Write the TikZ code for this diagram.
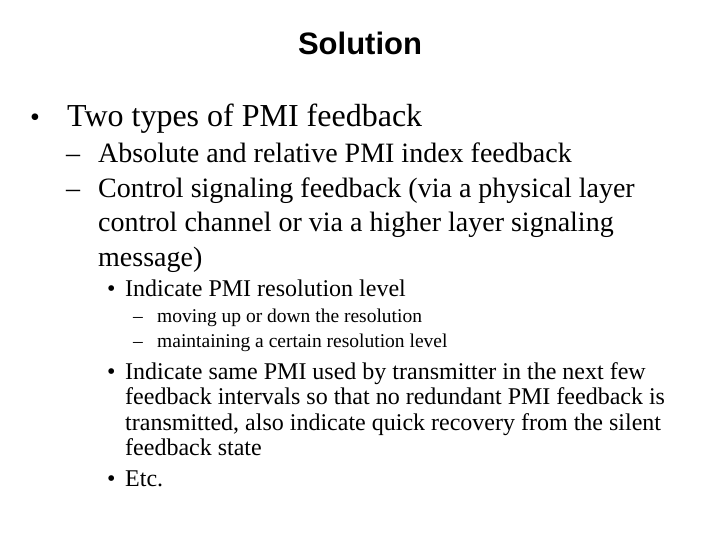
\documentclass[tikz,border=0pt]{standalone}
\usepackage{fontspec}
\setmainfont{Liberation Serif}
\newfontfamily\arialf{Liberation Sans}
\begin{document}
\begin{tikzpicture}[x=1pt,y=-1pt,
  t/.style={anchor=base west,inner sep=0pt},
  la/.style={t,font=\fontsize{32}{36}\selectfont},
  lb/.style={t,font=\fontsize{28}{32}\selectfont},
  lc/.style={t,font=\fontsize{24}{28}\selectfont},
  ld/.style={t,font=\fontsize{19.5}{23}\selectfont}]
\useasboundingbox (0,0) rectangle (720,540);
\node[t,anchor=base,font=\arialf\bfseries\fontsize{31}{34}\selectfont] (title) at (360,55) {Solution};
\node[lb] (b1) at (30,127) {•};
\node[la] (t1) at (67,127) {Two types of PMI feedback};
\node[lb] (d1) at (66,163) {–};
\node[lb] (t2) at (98,163) {Absolute and relative PMI index feedback};
\node[lb] (d2) at (66,197) {–};
\node[lb] (t3) at (98,197) {Control signaling feedback (via a physical layer};
\node[lb] (t3b) at (98,232) {control channel or via a higher layer signaling};
\node[lb] (t3c) at (98,266) {message)};
\node[lc] (b2) at (107,296) {•};
\node[lc] (t4) at (125,296) {Indicate PMI resolution level};
\node[ld] (d3) at (133,322) {–};
\node[ld] (t5) at (157,322) {moving up or down the resolution};
\node[ld] (d4) at (133,347) {–};
\node[ld] (t6) at (157,347) {maintaining a certain resolution level};
\node[lc] (b3) at (107,379) {•};
\node[lc] (t7) at (125,379) {Indicate same PMI used by transmitter in the next few};
\node[lc] (t7b) at (125,404) {feedback intervals so that no redundant PMI feedback is};
\node[lc] (t7c) at (125,430) {transmitted, also indicate quick recovery from the silent};
\node[lc] (t7d) at (125,455) {feedback state};
\node[lc] (b4) at (107,486) {•};
\node[lc] (t8) at (125,486) {Etc.};
\end{tikzpicture}
\end{document}
